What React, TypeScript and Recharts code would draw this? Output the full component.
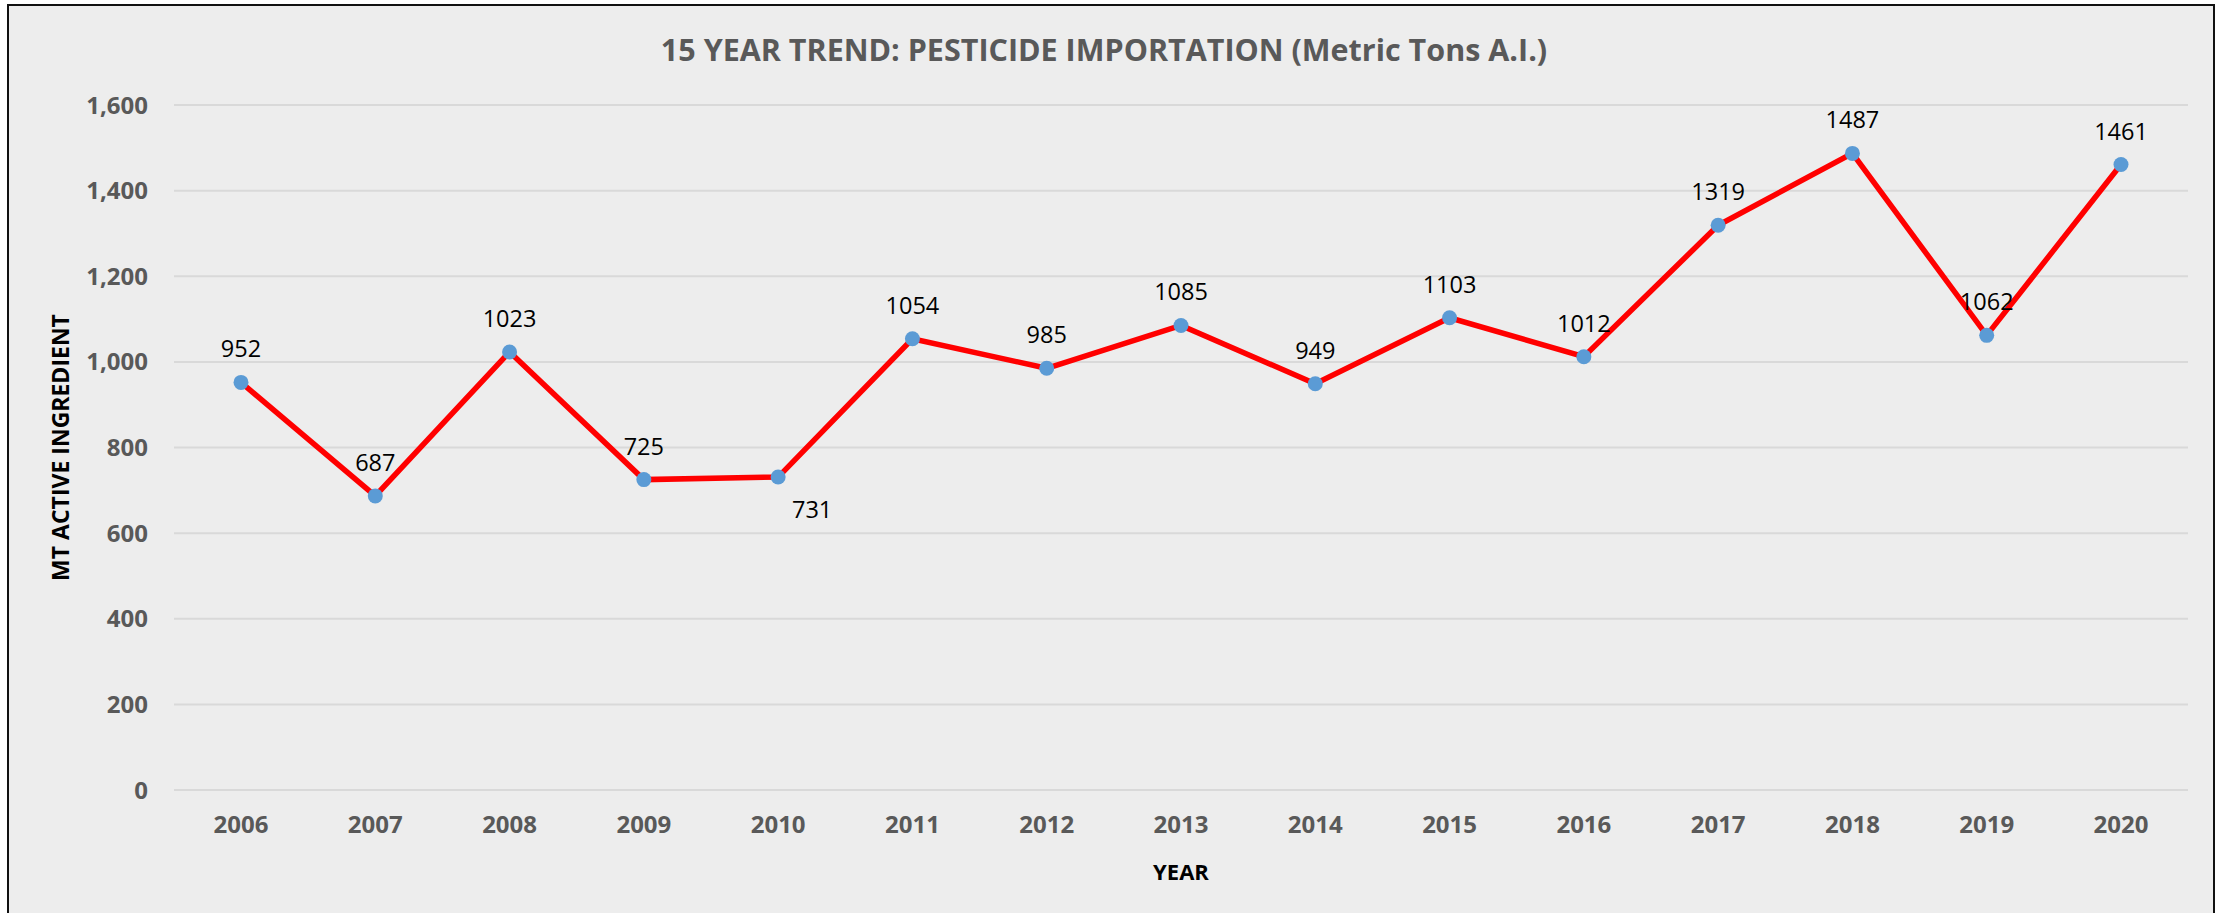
import { LineChart, Line, XAxis, YAxis, CartesianGrid, LabelList, Label } from 'recharts';

const years = ['2006', '2007', '2008', '2009', '2010', '2011', '2012', '2013', '2014', '2015', '2016', '2017', '2018', '2019', '2020'];
const importsMT = [952, 687, 1023, 725, 731, 1054, 985, 1085, 949, 1103, 1012, 1319, 1487, 1062, 1461];
const yTicks = [0, 200, 400, 600, 800, 1000, 1200, 1400, 1600];

const data = years.map((year, i) => ({ year, mt: importsMT[i] }));

const FONT = '"Open Sans", sans-serif';

// 2010's label sits below-right of its point in the original, others sit above
function PointLabel(props: any) {
  const { x, y, value, index } = props;
  const below = index === 4;
  return (
    <text
      x={below ? x + 34 : x}
      y={below ? y + 41 : y - 25}
      textAnchor="middle"
      fontSize={23.5}
      fontFamily={FONT}
      fill="#000"
    >
      {value}
    </text>
  );
}

export default function App() {
  return (
    <div style={{ position: 'absolute', left: 0, top: 0, width: 2231, height: 913, overflow: 'hidden', background: '#fff' }}>
      <div
        style={{
          position: 'absolute', left: 7, top: 4, width: 2208, height: 930,
          background: '#EDEDED', border: '2px solid #111', boxSizing: 'border-box',
        }}
      />
      <div
        style={{
          position: 'absolute', left: 0, top: 28, width: 2208, textAlign: 'center',
          fontFamily: FONT, fontWeight: 700, fontSize: 30.5, color: '#595959',
        }}
      >
        15 YEAR TREND: PESTICIDE IMPORTATION (Metric Tons A.I.)
      </div>
      <div style={{ position: 'absolute', left: 0, top: 0 }}>
        <LineChart width={2231} height={913} data={data} margin={{ top: 105, right: 43, left: 0, bottom: 0 }}>
          <CartesianGrid vertical={false} stroke="#D9D9D9" strokeWidth={2} />
          <XAxis
            dataKey="year"
            padding={{ left: 67, right: 67 }}
            axisLine={false}
            tickLine={false}
            tickSize={0}
            tickMargin={26}
            height={123}
            interval={0}
            tick={{ fill: '#595959', fontSize: 24, fontWeight: 700, fontFamily: FONT }}
          >
            <Label
              content={({ viewBox }: any) => (
                <text
                  x={viewBox.x + viewBox.width / 2}
                  y={880}
                  textAnchor="middle"
                  fontSize={22}
                  fontWeight={700}
                  fontFamily={FONT}
                  fill="#000"
                >
                  YEAR
                </text>
              )}
            />
          </XAxis>
          <YAxis
            domain={[0, 1600]}
            ticks={yTicks}
            width={174}
            axisLine={false}
            tickLine={false}
            tickSize={0}
            tickMargin={26}
            tickFormatter={(v: number) => v.toLocaleString('en-US')}
            tick={{ fill: '#595959', fontSize: 24, fontWeight: 700, fontFamily: FONT }}
          >
            <Label
              content={({ viewBox }: any) => {
                const cy = viewBox.y + viewBox.height / 2;
                return (
                  <text
                    x={60}
                    y={cy}
                    transform={`rotate(-90 60 ${cy})`}
                    textAnchor="middle"
                    dominantBaseline="central"
                    fontSize={23}
                    fontWeight={700}
                    fontFamily={FONT}
                    fill="#000"
                  >
                    MT ACTIVE INGREDIENT
                  </text>
                );
              }}
            />
          </YAxis>
          <Line
            type="linear"
            dataKey="mt"
            stroke="#FF0000"
            strokeWidth={5.5}
            dot={{ r: 7.5, fill: '#5B9BD5', stroke: 'none', strokeWidth: 0 }}
            activeDot={false}
            isAnimationActive={false}
          >
            <LabelList dataKey="mt" content={PointLabel} />
          </Line>
        </LineChart>
      </div>
    </div>
  );
}
